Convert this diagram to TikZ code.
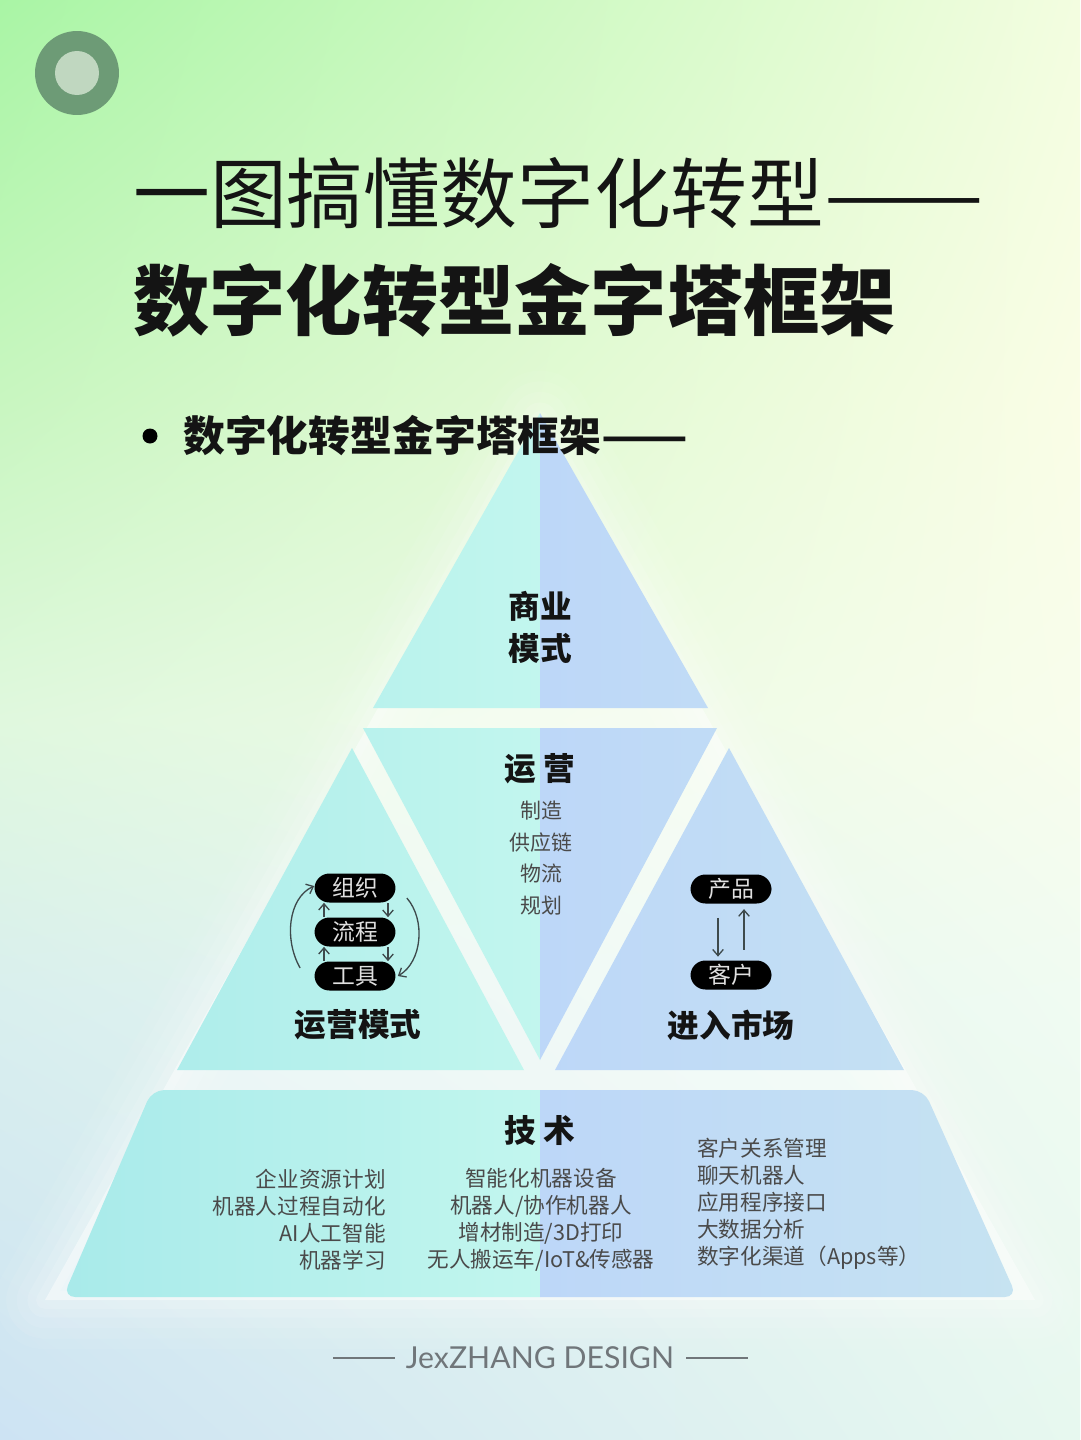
\documentclass[tikz,border=0pt]{standalone}
\usepackage{fontspec}
\setmainfont{Noto Sans CJK SC}
\newfontfamily\latinfont{Lato}
\usetikzlibrary{arrows.meta,shadings}
\definecolor{bgA}{HTML}{A9F5A5}
\definecolor{bgB}{HTML}{F3FDE0}
\definecolor{bgC}{HTML}{C8F6C0}
\definecolor{bgD}{HTML}{FAFDE6}
\definecolor{bgE}{HTML}{E0F8DE}
\definecolor{bgF}{HTML}{F8FDEC}
\definecolor{bgG}{HTML}{D9EFEE}
\definecolor{bgH}{HTML}{F0FBF2}
\definecolor{bgI}{HTML}{CDE3F3}
\definecolor{bgJ}{HTML}{E7F8EF}
\definecolor{cyA}{HTML}{A8EAEA}
\definecolor{cyB}{HTML}{C2F6EE}
\definecolor{blA}{HTML}{BDD7F8}
\definecolor{blB}{HTML}{C6E3F1}
\definecolor{txt}{HTML}{4A4A4A}
\definecolor{dark}{HTML}{141414}
\definecolor{ring}{HTML}{6D9B76}
\definecolor{ringin}{HTML}{C0D7C0}
\definecolor{arrc}{HTML}{3E4A4C}
\definecolor{foot}{HTML}{70767A}
\tikzset{
  title1/.style={anchor=west, inner sep=0, text=dark, font=\fontsize{43.7}{50}\selectfont},
  title2/.style={anchor=west, inner sep=0, text=dark, font=\fontsize{43.4}{50}\selectfont\bfseries},
  sub/.style={anchor=west, inner sep=0, text=dark, font=\fontsize{23.8}{28}\selectfont\bfseries},
  head/.style={inner sep=0, text=dark, font=\fontsize{18}{24}\selectfont\bfseries, align=center},
  lst/.style={inner sep=0, text=txt, font=\fontsize{12.3}{15.3}\selectfont},
  midlst/.style={inner sep=0, text=txt, font=\fontsize{11.9}{18.1}\selectfont, align=center},
  pill/.style={fill=black, rounded corners=8.5pt, minimum width=1.62cm, minimum height=0.58cm, inner sep=0, text=white!88!black, font=\fontsize{13}{15}\selectfont},
  arr/.style={draw=arrc, line width=0.75pt, -{Straight Barb[length=3.5pt,width=6pt]}},
}
\begin{document}
\begin{tikzpicture}[x=0.02cm,y=-0.02cm]
\useasboundingbox (0,0) rectangle (1080,1440);
% background
\shade[upper left=bgA, upper right=bgB, lower left=bgC, lower right=bgD] (0,0) rectangle (1080,400);
\shade[upper left=bgC, upper right=bgD, lower left=bgE, lower right=bgF] (0,400) rectangle (1080,720);
\shade[upper left=bgE, upper right=bgF, lower left=bgG, lower right=bgH] (0,720) rectangle (1080,1000);
\shade[upper left=bgG, upper right=bgH, lower left=bgI, lower right=bgJ] (0,1000) rectangle (1080,1440);
% glow behind pyramid
\foreach \w/\o in {56pt/0.06, 44pt/0.07, 32pt/0.09, 20pt/0.12, 10pt/0.15} {
  \draw[white, line width=\w, opacity=\o, line join=round] (540,420) -- (45,1300) -- (1035,1300) -- cycle;
}
\fill[white, opacity=0.45] (540,420) -- (45,1300) -- (1035,1300) -- cycle;
% top-left circle
\fill[ring] (77,73) circle[radius=0.84cm];
\fill[ringin] (77,73) circle[radius=0.44cm];
% pyramid pieces
\begin{scope}
\clip (540,413) -- (373,708) -- (708,708) -- cycle;
\shade[left color=cyA, right color=cyB] (60,400) rectangle (540,1310);
\shade[left color=blA, right color=blB] (540,400) rectangle (1020,1310);
\end{scope}
\begin{scope}
\clip (363,728) -- (717,728) -- (540,1060) -- cycle;
\shade[left color=cyA, right color=cyB] (60,400) rectangle (540,1310);
\shade[left color=blA, right color=blB] (540,400) rectangle (1020,1310);
\end{scope}
\begin{scope}
\clip (352,748) -- (177,1070) -- (524,1070) -- cycle;
\shade[left color=cyA, right color=cyB] (60,400) rectangle (540,1310);
\end{scope}
\begin{scope}
\clip (729,748) -- (555,1070) -- (904,1070) -- cycle;
\shade[left color=blA, right color=blB] (540,400) rectangle (1020,1310);
\end{scope}
\begin{scope}
\clip[rounded corners=7pt] (152,1090) -- (924,1090) -- (1017,1297) -- (63,1297) -- cycle;
\shade[left color=cyA, right color=cyB] (60,400) rectangle (540,1310);
\shade[left color=blA, right color=blB] (540,400) rectangle (1020,1310);
\end{scope}
% titles
\node[title1] (t1) at (133,193) {一图搞懂数字化转型\scalebox{1.24}[1]{——}};
\node[title2] (t2) at (133,300) {数字化转型金字塔框架};
\node[circle, fill=black, inner sep=0, minimum size=0.3cm] (dot) at (150,436) {};
\node[sub] (t3) at (183,436) {数字化转型金字塔框架\scalebox{1.21}[1]{——}};
% top
\node[head, font=\fontsize{18}{23.8}\selectfont\bfseries] (biz) at (540,627) {商业\\模式};
% operations
\node[head] (ops) at (540,769) {运 营};
\node[midlst] (opsl) at (541,858) {制造\\供应链\\物流\\规划};
% left triangle
\node[pill] (zz) at (355,888) {组织};
\node[pill] (lc) at (355,932) {流程};
\node[pill] (gj) at (355,976) {工具};
\draw[arr] ([xshift=-0.62cm]lc.north) -- ([xshift=-0.62cm]zz.south);
\draw[arr] ([xshift=-0.62cm]gj.north) -- ([xshift=-0.62cm]lc.south);
\draw[arr] ([xshift=0.66cm]zz.south) -- ([xshift=0.66cm]lc.north);
\draw[arr] ([xshift=0.66cm]lc.south) -- ([xshift=0.66cm]gj.north);
\draw[arr] ([xshift=-0.28cm,yshift=0.16cm]gj.west) .. controls (284,940) and (288,898) .. ([yshift=0.04cm]zz.west);
\draw[arr] ([xshift=0.22cm,yshift=-0.2cm]zz.east) .. controls (426,920) and (422,962) .. ([xshift=0.04cm]gj.east);
\node[head] (opm) at (358,1025) {运营模式};
% right triangle
\node[pill] (cp) at (731,889) {产品};
\node[pill] (kh) at (731,975) {客户};
\draw[arr, shorten <=8pt, shorten >=2pt] ([xshift=-0.26cm]cp.south) -- ([xshift=-0.26cm]kh.north);
\draw[arr, shorten <=6pt, shorten >=3pt] ([xshift=0.26cm]kh.north) -- ([xshift=0.26cm]cp.south);
\node[head] (mkt) at (731,1025) {进入市场};
% bottom
\node[head] (tech) at (540,1130) {技 术};
\node[lst, anchor=east, align=right] (tl) at (386,1219.5) {企业资源计划\\机器人过程自动化\\AI人工智能\\机器学习};
\node[lst, align=center] (tm) at (541,1219.5) {智能化机器设备\\机器人/协作机器人\\增材制造/3D打印\\无人搬运车/IoT\&传感器};
\node[lst, anchor=west, align=left] (tr) at (697,1204) {客户关系管理\\聊天机器人\\应用程序接口\\大数据分析\\数字化渠道（Apps等）};
% footer
\node[inner sep=0, text=foot, font=\latinfont\fontsize{17.2}{20}\selectfont] (ft) at (540,1358) {JexZHANG DESIGN};
\coordinate (fl1) at (333,1358);
\coordinate (fl2) at (395,1358);
\coordinate (fr1) at (686,1358);
\coordinate (fr2) at (748,1358);
\draw[foot, line width=0.6pt] (fl1) -- (fl2);
\draw[foot, line width=0.6pt] (fr1) -- (fr2);
\end{tikzpicture}
\end{document}
